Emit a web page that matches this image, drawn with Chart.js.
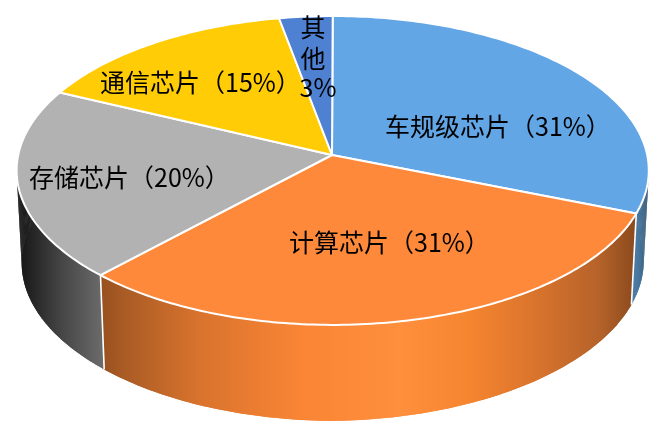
<!DOCTYPE html>
<html>
<head>
<meta charset="utf-8">
<style>
  html, body { margin: 0; background: #fff; }
  canvas { display: block; }
</style>
<script src="https://cdn.jsdelivr.net/npm/chart.js@4"></script>
</head>
<body>
<canvas id="pie3d" width="672" height="444"></canvas>
<script>
var categories = ['车规级芯片', '计算芯片', '存储芯片', '通信芯片', '其他'];
var shares = [31, 31, 20, 15, 3];
var topColors = ['#63a6e6', '#ff893b', '#b2b2b2', '#ffcc06', '#4f81d3'];

// horizontal shading of the outer wall, [x, colour]
var wallShades = [
  [[631, '#4f82ad'], [640, '#467298'], [650, '#2c4a64']],
  [[100, '#97501f'], [125, '#aa5c25'], [200, '#d9732d'], [300, '#f98535'], [400, '#ff8f3c'],
   [470, '#f5852f'], [530, '#dc752d'], [600, '#b5622a'], [632, '#8f4c1e']],
  [[18, '#141414'], [60, '#444444'], [104, '#6c6c6c']],
  [[60, '#ffcc06'], [280, '#ffcc06']],
  [[280, '#4f81d3'], [332, '#4f81d3']]
];

// flat circle -> screen, the pie is seen in perspective so the apex is not the ellipse centre
function project(a) {
  var X = Math.cos(a), Y = Math.sin(a), w = 1 - 0.1 * Y;
  return { x: 332.7 + 314.5 * X / w, y: (155 + 137.4 * Y) / w, X: X };
}
function projectBase(a) {
  var p = project(a);
  return {
    x: 332.7 + (p.x - 332.7) * 0.984,
    y: 265 + (p.y - 170.5) * 1.01 - 4 * Math.max(p.X, 0) - 2 * Math.max(-p.X, 0)
  };
}
function rimPoints(start, end, fn) {
  var n = Math.max(4, Math.ceil((end - start) * 60)), pts = [];
  for (var i = 0; i <= n; i++) pts.push(fn(start + (end - start) * i / n));
  return pts;
}
function tracePoly(ctx, pts) {
  ctx.beginPath();
  pts.forEach(function (p, k) { k ? ctx.lineTo(p.x, p.y) : ctx.moveTo(p.x, p.y); });
  ctx.closePath();
}

var pie3d = {
  id: 'pie3d',
  beforeDatasetDraw: function (chart, args) {
    var ctx = chart.ctx, arcs = args.meta.data;
    ctx.save();
    // walls, the front slice last
    [4, 3, 0, 2, 1].forEach(function (i) {
      var arc = arcs[i];
      var top = rimPoints(arc.startAngle, arc.endAngle, project);
      var base = rimPoints(arc.startAngle, arc.endAngle, projectBase);
      var stops = wallShades[i];
      var x0 = stops[0][0], x1 = stops[stops.length - 1][0];
      var g = ctx.createLinearGradient(x0, 0, x1, 0);
      stops.forEach(function (s) { g.addColorStop((s[0] - x0) / (x1 - x0), s[1]); });
      ctx.fillStyle = g;
      tracePoly(ctx, top.concat(base.slice().reverse()));
      ctx.fill();
      // strips too, they fill the tangent corner at the sides
      for (var k = 0; k < top.length - 1; k++) {
        tracePoly(ctx, [top[k], top[k + 1], base[k + 1], base[k]]);
        ctx.fill();
      }
    });
    // white edges down the wall where front slices meet
    ctx.strokeStyle = '#fff';
    ctx.lineWidth = 1.6;
    [arcs[0].endAngle, arcs[1].endAngle].forEach(function (a) {
      var p = project(a), q = projectBase(a);
      ctx.beginPath();
      ctx.moveTo(p.x, p.y);
      ctx.lineTo(q.x, q.y);
      ctx.stroke();
    });
    // top face
    ctx.lineJoin = 'round';
    arcs.forEach(function (arc, i) {
      ctx.beginPath();
      ctx.moveTo(332, 155);
      rimPoints(arc.startAngle, arc.endAngle, project).forEach(function (p) { ctx.lineTo(p.x, p.y); });
      ctx.closePath();
      ctx.fillStyle = topColors[i];
      ctx.fill();
      ctx.lineWidth = 2;
      ctx.strokeStyle = '#fff';
      ctx.stroke();
    });
    ctx.restore();
    return false;
  },
  afterDraw: function (chart) {
    var ctx = chart.ctx;
    ctx.save();
    ctx.font = '25px "Noto Sans CJK SC"';
    ctx.fillStyle = '#000';
    ctx.textBaseline = 'middle';
    var at = [[385, 126], [289, 242], [29, 177], [100, 82]];
    at.forEach(function (p, i) {
      ctx.fillText(categories[i] + '（' + shares[i] + '%）', p[0], p[1]);
    });
    ctx.textAlign = 'center';
    ctx.fillText(categories[4].charAt(0), 313, 27);
    ctx.fillText(categories[4].charAt(1), 313, 58);
    ctx.fillText(shares[4] + '%', 318, 87);
    ctx.restore();
  }
};

new Chart(document.getElementById('pie3d'), {
  type: 'pie',
  data: {
    labels: categories,
    datasets: [{ data: shares, backgroundColor: topColors }]
  },
  options: {
    responsive: false,
    animation: false,
    events: [],
    plugins: { legend: { display: false }, tooltip: { enabled: false } }
  },
  plugins: [pie3d]
});
</script>
</body>
</html>
